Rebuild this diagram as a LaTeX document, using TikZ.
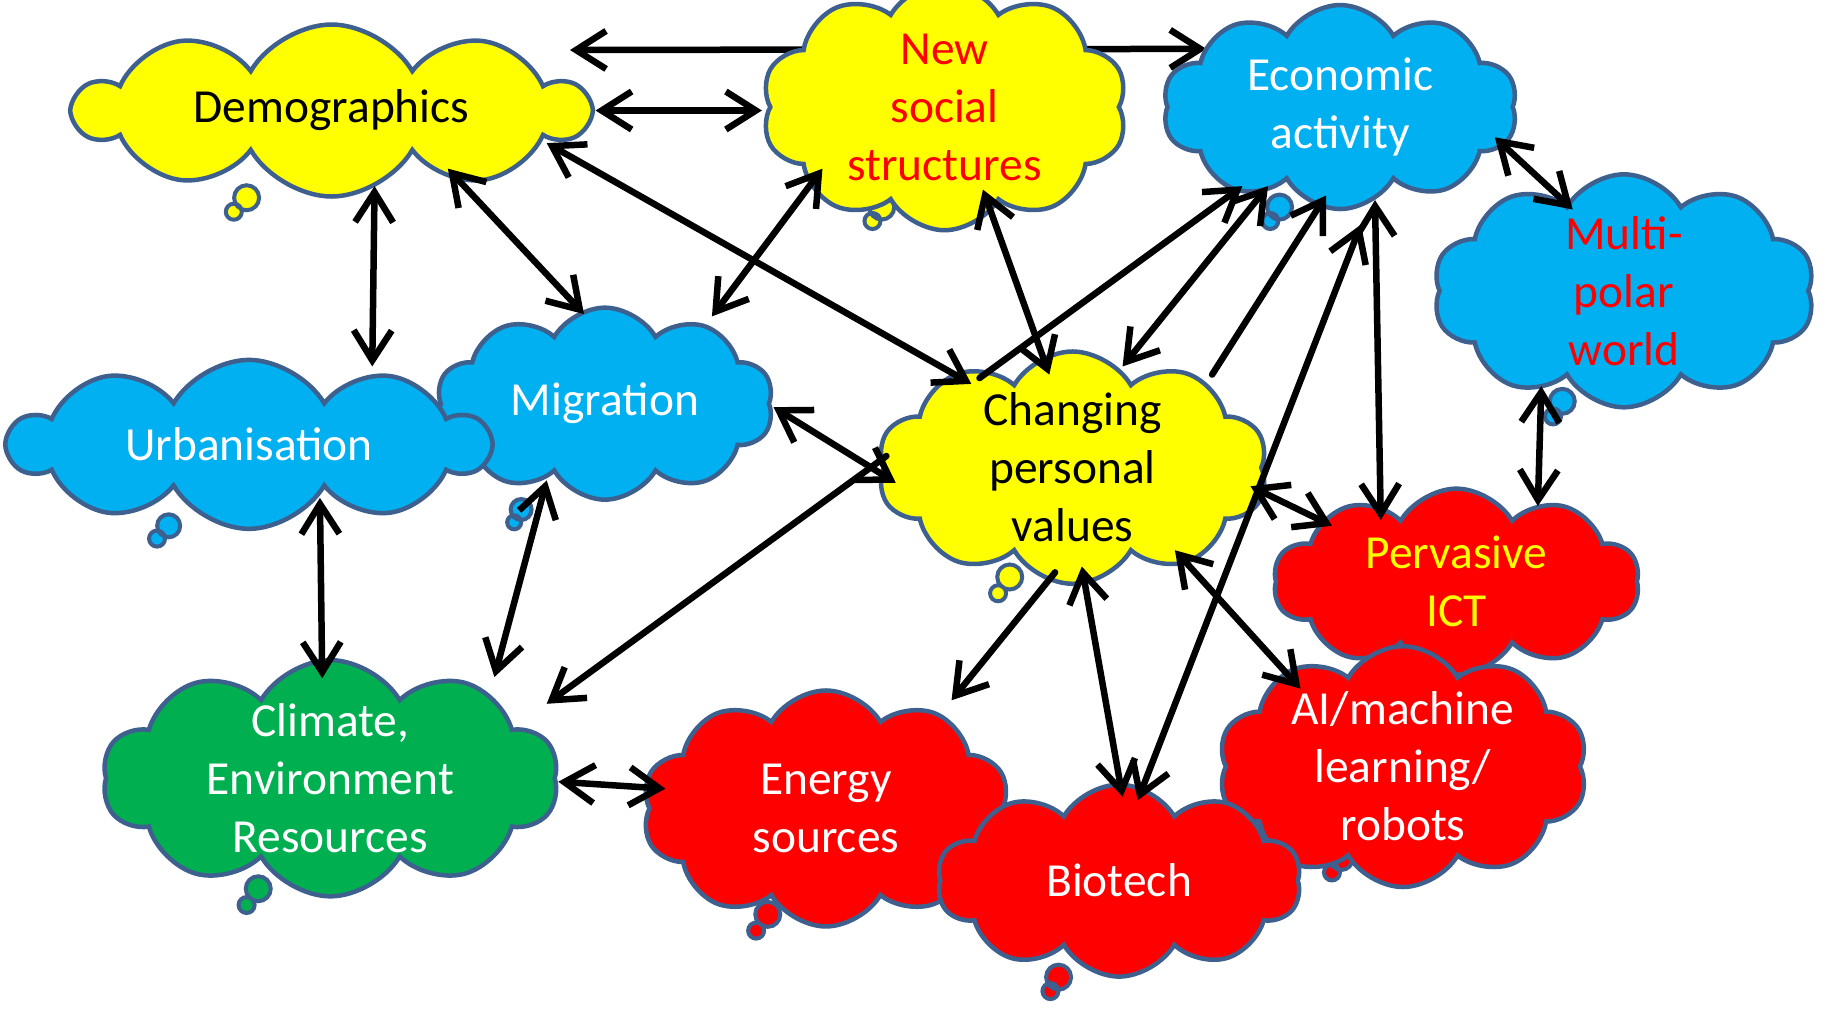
\documentclass[tikz,border=0pt]{standalone}
\usepackage{fontspec}
\setmainfont{Carlito}
\usetikzlibrary{shapes.symbols,arrows.meta,backgrounds}

\definecolor{cloudedge}{RGB}{62,96,143}
\definecolor{cyellow}{RGB}{255,255,0}
\definecolor{cblue}{RGB}{0,176,240}
\definecolor{cgreen}{RGB}{0,176,80}
\definecolor{cred}{RGB}{255,0,0}

\begin{document}
\begin{tikzpicture}[x=0.11633mm,y=-0.11633mm,
    thought/.style={cloud, cloud puffs=10, cloud puff arc=120, cloud ignores aspect,
        draw=cloudedge, line width=0.45mm, inner sep=0pt, align=center,
        font=\fontsize{13.5}{16.5}\selectfont},
    bubble/.style={draw=cloudedge, line width=0.4mm},
    link/.style={line width=0.65mm, line cap=round,
        {Straight Barb[length=3mm,width=3.8mm]}-{Straight Barb[length=3mm,width=3.8mm]}},
    onelink/.style={line width=0.65mm, line cap=round, -{Straight Barb[length=3mm,width=3.8mm]}}]
    \useasboundingbox (0,0) rectangle (1568,867);

    % clouds, back to front
    \node[thought, fill=cblue, text=white, minimum width=33.7mm, minimum height=19.2mm] (migr) at (520,347) {Migration};
    \node[thought, fill=cblue, text=white, minimum width=47.9mm, minimum height=16.9mm] (urban) at (214,382) {Urbanisation};
    \node[thought, fill=cyellow, minimum width=51.2mm, minimum height=17.2mm] (demo) at (285,95) {Demographics};
    \node[thought, fill=cyellow, text=cred, minimum width=36.6mm, minimum height=20.4mm] (social) at (812,92) {New\\social\\structures};
    \node[thought, fill=cblue, text=white, minimum width=35.5mm, minimum height=20.4mm] (econ) at (1152,92) {Economic\\activity};
    \node[thought, fill=cblue, text=cred, minimum width=38.2mm, minimum height=23.3mm] (multi) at (1396,250) {Multi-\\polar\\world};
    \node[thought, fill=cyellow, inner ysep=-0.5mm, minimum width=39mm, minimum height=20.5mm] (values) at (922,402) {Changing\\personal\\values};
    \node[thought, fill=cred, text=cyellow, minimum width=36.6mm, minimum height=18.6mm] (ict) at (1252,500) {Pervasive\\ICT};
    \node[thought, fill=cred, text=white, inner ysep=-0.6mm, minimum width=37mm, minimum height=19.8mm] (ai) at (1206,659) {AI/machine\\learning/\\robots};
    \node[thought, fill=cgreen, text=white, inner ysep=-1mm, minimum width=45.6mm, minimum height=20.5mm] (climate) at (284,669) {Climate,\\Environment\\Resources};
    \node[thought, fill=cred, text=white, minimum width=36.8mm, minimum height=23.6mm] (energy) at (710,695) {Energy\\sources};
    \node[thought, fill=cred, text=white, minimum width=36.4mm, minimum height=19.2mm] (bio) at (962,757) {Biotech};

    \begin{scope}[on background layer]
        % thought bubbles
        \draw[bubble, fill=cyellow] (212,170) circle[radius=1.25mm] (201,182) circle[radius=0.8mm];
        \draw[bubble, fill=cyellow] (758,178) circle[radius=1.25mm] (750,190) circle[radius=0.8mm];
        \draw[bubble, fill=cblue] (1100,178) circle[radius=1.25mm] (1092,190) circle[radius=0.8mm];
        \draw[bubble, fill=cblue] (1343,345) circle[radius=1.25mm] (1335,358) circle[radius=0.8mm];
        \draw[bubble, fill=cblue] (145,452) circle[radius=1.15mm] (135,463) circle[radius=0.8mm];
        \draw[bubble, fill=cblue] (448,438) circle[radius=1.05mm] (442,449) circle[radius=0.7mm];
        \draw[bubble, fill=cyellow] (868,496) circle[radius=1.25mm] (858,510) circle[radius=0.8mm];
        \draw[bubble, fill=cred] (1153,738) circle[radius=1.15mm] (1145,750) circle[radius=0.8mm];
        \draw[bubble, fill=cgreen] (222,764) circle[radius=1.25mm] (212,778) circle[radius=0.8mm];
        \draw[bubble, fill=cred] (660,786) circle[radius=1.25mm] (650,800) circle[radius=0.8mm];
        \draw[bubble, fill=cred] (910,840) circle[radius=1.25mm] (903,852) circle[radius=0.8mm];
        % runs behind New social structures
        \draw[link] ([shift={(205,-52)}]demo.center) -- ([shift={(-115,-50)}]econ.center);
    \end{scope}

    \draw[link] ([shift={(227,0)}]demo.center) -- ([shift={(-157,3)}]social.center);
    \draw[link] ([shift={(185,28)}]demo.center) -- ([shift={(-87,-72)}]values.center);
    \draw[link] ([shift={(100,50)}]demo.center) -- ([shift={(-18,-77)}]migr.center);
    \draw[link] ([shift={(37,65)}]demo.center) -- ([shift={(106,-67)}]urban.center);
    \draw[link] ([shift={(-105,53)}]social.center) -- ([shift={(92,-75)}]migr.center);
    \draw[link] ([shift={(33,71)}]social.center) -- ([shift={(-20,-80)}]values.center);
    \draw[onelink] ([shift={(-80,-77)}]values.center) -- ([shift={(-84,68)}]econ.center);
    \draw[link] ([shift={(-62,68)}]econ.center) -- ([shift={(43,-87)}]values.center);
    \draw[onelink] ([shift={(120,-80)}]values.center) -- ([shift={(-12,76)}]econ.center);
    \draw[link] ([shift={(18,101)}]econ.center) -- ([shift={(16,-69)}]bio.center);
    \draw[link] ([shift={(30,80)}]econ.center) -- ([shift={(-65,-53)}]ict.center);
    \draw[link] ([shift={(133,26)}]econ.center) -- ([shift={(-44,-70)}]multi.center);
    \draw[link] ([shift={(-71,82)}]multi.center) -- ([shift={(70,-65)}]ict.center);
    \draw[link] ([shift={(153,16)}]values.center) -- ([shift={(-107,-48)}]ict.center);
    \draw[link] ([shift={(145,3)}]migr.center) -- ([shift={(-152,13)}]values.center);
    \draw[onelink] ([shift={(-160,-10)}]values.center) -- ([shift={(186,-64)}]climate.center);
    \draw[link] ([shift={(61,46)}]urban.center) -- ([shift={(-7,-86)}]climate.center);
    \draw[link] ([shift={(-50,66)}]migr.center) -- ([shift={(141,-87)}]climate.center);
    \draw[link] ([shift={(196,3)}]climate.center) -- ([shift={(-138,-17)}]energy.center);
    \draw[onelink] ([shift={(-15,90)}]values.center) -- ([shift={(108,-93)}]energy.center);
    \draw[link] ([shift={(8,85)}]values.center) -- ([shift={(3,-72)}]bio.center);
    \draw[link] ([shift={(88,71)}]values.center) -- ([shift={(-88,-67)}]ai.center);
\end{tikzpicture}
\end{document}
